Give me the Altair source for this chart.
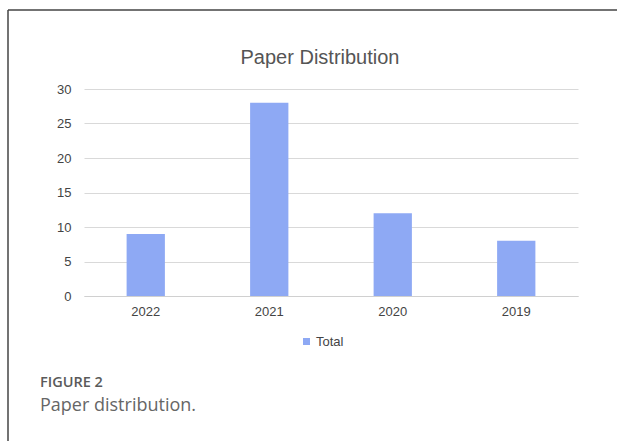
import altair as alt
import pandas as pd

years = ["2022", "2021", "2020", "2019"]
totals = [9, 28, 12, 8]
series_name = "Total"
chart_title = "Paper Distribution"
fig_label = "FIGURE 2"
fig_caption = "Paper distribution."
y_ticks = [0, 5, 10, 15, 20, 25, 30]

df = pd.DataFrame({"Year": years, "Count": totals, "Series": [series_name] * len(years)})
one = pd.DataFrame({"k": [0]})

W, H = 494, 207
LEFT, TOP = 84, 89

bars = alt.Chart(df).mark_bar(color="#8EA9F4").encode(
    x=alt.X("Year:N", sort=years, title=None,
            scale=alt.Scale(paddingInner=0.69, paddingOuter=0.345),
            axis=alt.Axis(labelAngle=0, ticks=False, domain=True, domainColor="#d0d0d0",
                          grid=False,
                          labelFontSize=13, labelColor="#444444", labelPadding=9,
                          labelFont="Liberation Sans")),
    y=alt.Y("Count:Q", title=None,
            scale=alt.Scale(domain=[0, 30], nice=False),
            axis=alt.Axis(values=y_ticks, ticks=False, domain=False, gridColor="#d9d9d9",
                          labelFontSize=13, labelColor="#444444", labelPadding=13,
                          labelFont="Liberation Sans")),
    color=alt.Color("Series:N", scale=alt.Scale(range=["#8EA9F4"]), title=None,
                    legend=alt.Legend(orient="none", legendX=216, legendY=246,
                                      symbolType="square", symbolSize=49, symbolStrokeWidth=0,
                                      labelFontSize=13, labelColor="#444444", labelFont="Liberation Sans",
                                      labelOffset=3, padding=0)),
)

title = alt.Chart(one).mark_text(text=chart_title, font="Liberation Sans", fontSize=20,
                                 color="#555555", align="center", baseline="middle").encode(
    x=alt.value(320 - LEFT), y=alt.value(58 - TOP))

lab = alt.Chart(one).mark_text(text=fig_label, font="Open Sans", fontSize=14.5, fontWeight=600,
                               color="#5a5a5a", align="left", baseline="middle").encode(
    x=alt.value(40 - LEFT), y=alt.value(383 - TOP))

cap = alt.Chart(one).mark_text(text=fig_caption, font="Open Sans", fontSize=18,
                               color="#666666", align="left", baseline="middle").encode(
    x=alt.value(40 - LEFT), y=alt.value(406 - TOP))

top_rule = alt.Chart(one).mark_rule(color="#444444", strokeWidth=1.5).encode(
    x=alt.value(8 - LEFT), x2=alt.value(617 - LEFT), y=alt.value(10 - TOP))
left_rule = alt.Chart(one).mark_rule(color="#444444", strokeWidth=1.5).encode(
    x=alt.value(8 - LEFT), y=alt.value(10 - TOP), y2=alt.value(441 - TOP))

chart = alt.layer(bars, title, lab, cap, top_rule, left_rule).properties(
    width=W, height=H,
    autosize=alt.AutoSizeParams(type="none"),
    padding={"left": LEFT, "top": TOP, "right": 617 - LEFT - W, "bottom": 441 - TOP - H},
    background="white",
).configure_view(stroke=None)

chart.save("out.html", embed_options={"renderer": "svg", "actions": False})
